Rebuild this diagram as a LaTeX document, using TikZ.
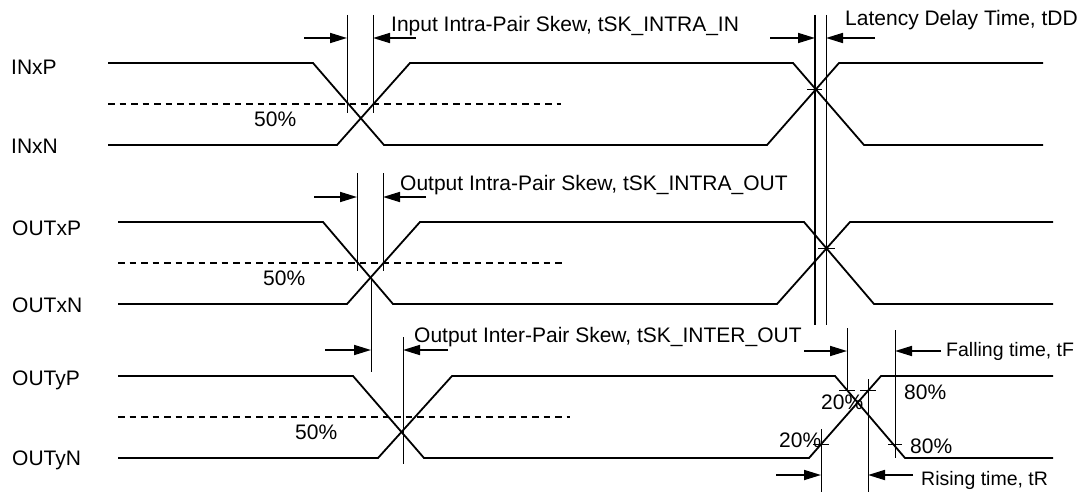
\documentclass[tikz,border=0pt]{standalone}
\usepackage{fontspec}
\setmainfont{Liberation Sans}
\usetikzlibrary{arrows.meta}
\begin{document}
\begin{tikzpicture}[x=1pt,y=-1pt,
  sig/.style={line width=1.8pt, line join=miter},
  vline/.style={line width=1pt},
  vthick/.style={line width=1.8pt},
  dashlvl/.style={line width=1.8pt, dash pattern=on 6.5pt off 5pt},
  dimarrow/.style={line width=1.7pt, -{Triangle[length=17pt,width=10pt]}},
  tickmark/.style={line width=1pt},
  lbl/.style={inner sep=0pt, anchor=base west, font=\fontsize{21}{25}\selectfont},
  lblsm/.style={inner sep=0pt, anchor=base west, font=\fontsize{19.5}{23}\selectfont},
]
\useasboundingbox (0,0) rectangle (1083,492);

% ---------- signal names ----------
\node[lbl] (inxp)  at (11,75)  {INxP};
\node[lbl] (inxn)  at (11,153) {INxN};
\node[lbl] (outxp) at (12,235) {OUTxP};
\node[lbl] (outxn) at (12,312) {OUTxN};
\node[lbl] (outyp) at (12,385) {OUTyP};
\node[lbl] (outyn) at (12,465) {OUTyN};

% ---------- waveforms ----------
\draw[sig] (108,63) -- (313,63) -- (384,145) -- (767,145) -- (839,63) -- (1043,63);
\draw[sig] (108,145) -- (337,145) -- (410,63) -- (793,63) -- (864,145) -- (1043,145);
\draw[sig] (118,222) -- (323,222) -- (393,304) -- (777,304) -- (850,222) -- (1053,222);
\draw[sig] (118,304) -- (347,304) -- (420,222) -- (804,222) -- (874,304) -- (1053,304);
\draw[sig] (118,376) -- (353,376) -- (424,458) -- (809,458) -- (881,376) -- (1053,376);
\draw[sig] (118,458) -- (378,458) -- (452,376) -- (835,376) -- (905,458) -- (1053,458);

% ---------- 50% levels ----------
\draw[dashlvl] (108,104) -- (561,104);
\draw[dashlvl] (118,263) -- (565,263);
\draw[dashlvl] (118,417) -- (570,417);
\node[lbl] (p50a) at (254,127) {50\%};
\node[lbl] (p50b) at (263,285) {50\%};
\node[lbl] (p50c) at (295,439) {50\%};

% ---------- Input intra-pair skew ----------
\draw[vline] (347,15) -- (347,113);
\draw[vline] (373,15) -- (373,113);
\draw[dimarrow] (304,38) -- (347,38);
\draw[dimarrow] (416,38) -- (373,38);
\node[lbl] (tin) at (391,32) {Input Intra-Pair Skew, tSK\_INTRA\_IN};

% ---------- Latency delay ----------
\draw[vthick] (815,15) -- (815,325);
\draw[vline] (826,15) -- (826,325);
\draw[dimarrow] (770,38) -- (815,38);
\draw[dimarrow] (875,38) -- (826,38);
\draw[tickmark] (807,90) -- (822,90);
\draw[tickmark] (818,248) -- (835,248);
\node[lbl] (tdd) at (845,26) {Latency Delay Time, tDD};

% ---------- Output intra-pair skew ----------
\draw[vline] (357,173) -- (357,271);
\draw[vline] (383,173) -- (383,271);
\draw[dimarrow] (314,197) -- (357,197);
\draw[dimarrow] (426,197) -- (383,197);
\node[lbl] (tout) at (400,190) {Output Intra-Pair Skew, tSK\_INTRA\_OUT};

% ---------- Output inter-pair skew ----------
\draw[vline] (371,277) -- (371,372);
\draw[vline] (403,337) -- (403,464);
\draw[dimarrow] (325,350) -- (371,350);
\draw[dimarrow] (448,350) -- (403,350);
\node[lbl] (tinter) at (414,342) {Output Inter-Pair Skew, tSK\_INTER\_OUT};

% ---------- Falling / rising time ----------
\draw[vline] (847,328) -- (847,390);
\draw[vline] (895,330) -- (895,458);
\draw[dimarrow] (804,351) -- (847,351);
\draw[dimarrow] (941,351) -- (895,351);
\node[lblsm] (tf) at (946,356) {Falling time, tF};

\draw[vline] (821,429) -- (821,492);
\draw[vline] (868,379) -- (868,492);
\draw[dimarrow] (776,475) -- (821,475);
\draw[dimarrow] (913,475) -- (868,475);
\node[lblsm] (tr) at (921,485) {Rising time, tR};

\draw[tickmark] (839,390) -- (855,390);
\draw[tickmark] (860,390) -- (876,390);
\draw[tickmark] (813,444) -- (829,444);
\draw[tickmark] (888,444) -- (902,444);
\node[lbl] (p20a) at (821,409) {20\%};
\node[lbl] (p80a) at (904,399) {80\%};
\node[lbl] (p20b) at (779,447) {20\%};
\node[lbl] (p80b) at (910,453) {80\%};
\end{tikzpicture}
\end{document}
